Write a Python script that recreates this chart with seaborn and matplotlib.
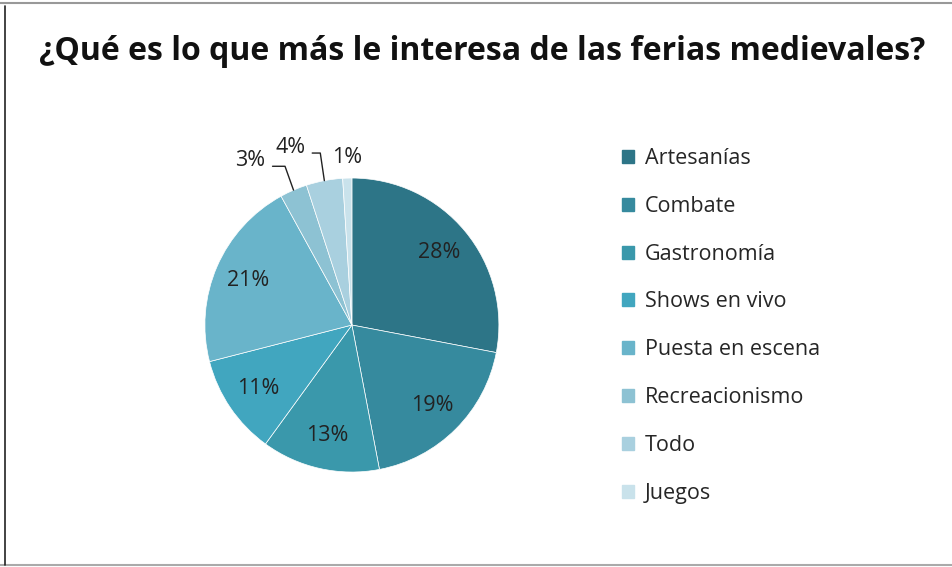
import matplotlib
matplotlib.use("Agg")
import matplotlib.pyplot as plt
import numpy as np
import seaborn as sns
from matplotlib.lines import Line2D

sns.set_theme(style="white")
plt.rcParams['font.family'] = ['Open Sans', 'DejaVu Sans']

# Datos
categorias = ['Artesanías', 'Combate', 'Gastronomía', 'Shows en vivo',
              'Puesta en escena', 'Recreacionismo', 'Todo', 'Juegos']
porcentajes = [28, 19, 13, 11, 21, 3, 4, 1]
colores = ['#2D7587', '#368A9E', '#3A98AB', '#41A6BF',
           '#69B4CA', '#8DC2D3', '#A9D0DF', '#C9E2EB']

fig = plt.figure(figsize=(9.53, 5.67), dpi=100)
ax = fig.add_axes([0.215, 0.1675, 0.3085, 0.5185])

wedges, _ = ax.pie(porcentajes, colors=colores, startangle=90, counterclock=False,
                   wedgeprops=dict(linewidth=0.5, edgecolor='white'))
ax.set_xlim(-1, 1)
ax.set_ylim(-1, 1)
ax.set_aspect('equal')

# etiquetas internas
for w, p in zip(wedges[:5], porcentajes[:5]):
    ang = np.deg2rad((w.theta1 + w.theta2) / 2)
    ax.text(0.77 * np.cos(ang), 0.77 * np.sin(ang), f'{p}%',
            ha='center', va='center', fontsize=15.5, color='#222222')

# etiquetas externas con líneas guía
ext = {5: ((-0.69, 1.12), (-0.54, -0.455, 1.08)),
       6: ((-0.415, 1.21), (-0.27, -0.215, 1.17)),
       7: ((-0.03, 1.14), None)}
for i, (pos, guia) in ext.items():
    ax.text(pos[0], pos[1], f'{porcentajes[i]}%', ha='center', va='center',
            fontsize=15.5, color='#222222')
    if guia:
        w = wedges[i]
        ang = np.deg2rad((w.theta1 + w.theta2) / 2)
        ax.plot([guia[0], guia[1], np.cos(ang)], [guia[2], guia[2], np.sin(ang)],
                color='#222222', lw=1, clip_on=False)

# leyenda
handles = [plt.Rectangle((0, 0), 1, 1, color=c) for c in colores]
fig.legend(handles, categorias, loc='upper left', bbox_to_anchor=(0.644, 0.754),
           frameon=False, fontsize=15.5, handlelength=0.55, handleheight=0.55,
           handletextpad=0.5, labelspacing=1.245, borderaxespad=0)

fig.text(0.506, 0.91, '¿Qué es lo que más le interesa de las ferias medievales?',
         ha='center', va='center', fontsize=23, fontweight='bold', color='#111111')

# bordes de la captura
fig.add_artist(Line2D([0, 1], [0.995, 0.995], color='#999999', lw=1.5))
fig.add_artist(Line2D([0, 1], [0.004, 0.004], color='#aaaaaa', lw=1.5))
fig.add_artist(Line2D([0.005, 0.005], [0.004, 0.99], color='#222222', lw=1.2))

fig.savefig('out.png', dpi=100)
